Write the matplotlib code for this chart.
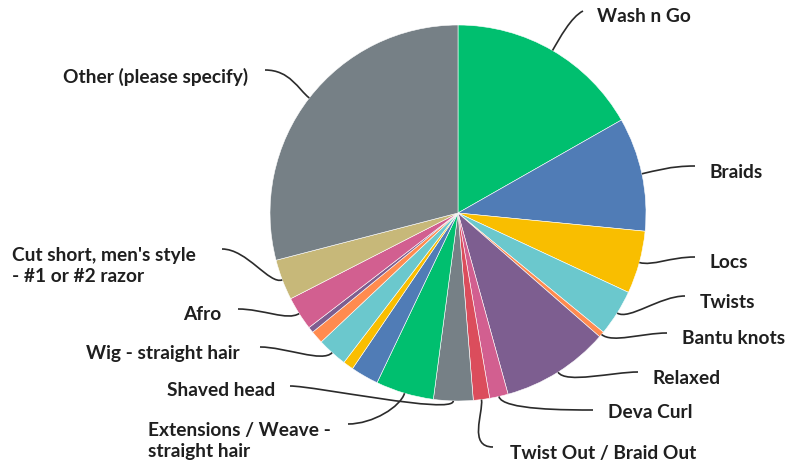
import numpy as np
import matplotlib
matplotlib.use("Agg")
import matplotlib.pyplot as plt
from matplotlib.path import Path
from matplotlib.patches import PathPatch

# ---- data (percent of responses, clockwise from 12 o'clock) ----
categories = ["Wash n Go", "Braids", "Locs", "Twists", "Bantu knots", "Relaxed",
              "Deva Curl", "Twist Out / Braid Out", "Shaved head",
              "Extensions / Weave -\nstraight hair", "", "", "Wig - straight hair",
              "", "", "Afro", "Cut short, men's style\n- #1 or #2 razor",
              "Other (please specify)"]
values = [16.8, 9.8, 5.4, 4.0, 0.5, 9.3, 1.6, 1.4, 3.4, 5.0, 2.4, 0.9, 2.6,
          1.1, 0.5, 2.9, 3.5, 29.1]
colors = ["#00BF6F", "#507CB6", "#F9BE00", "#6BC8CD", "#FF8B4F", "#7D5E90",
          "#D25F90", "#DB4D5C", "#768086", "#00BF6F", "#507CB6", "#F9BE00",
          "#6BC8CD", "#FF8B4F", "#7D5E90", "#D25F90", "#C7B879", "#768086"]

# label layout: (line end x, line end y in image px, text x, ha)
label_layout = {
    0: (583, 11, 597, "left"),
    1: (695, 166, 710, "left"),
    2: (695, 257, 710, "left"),
    3: (685, 296, 700, "left"),
    4: (667, 333, 682, "left"),
    5: (638, 372, 653, "left"),
    6: (593, 410, 608, "left"),
    7: (493, 447, 510, "left"),
    8: (290, 386, 275, "right"),
    9: (348, 424, 148, "left"),
    12: (260, 347, 240, "right"),
    15: (238, 309, 221, "right"),
    16: (222, 249, 12, "left"),
    17: (265, 70, 248, "right"),
}
text_y = {0: 17, 1: 172, 2: 263, 3: 302, 4: 338, 5: 378, 6: 412, 7: 454,
          8: 391, 9: 441, 12: 353, 15: 315, 16: 266, 17: 77}

W, H = 789, 466
fig = plt.figure(figsize=(W / 100, H / 100), dpi=100)
ax = fig.add_axes([0, 0, 1, 1])

cx, cy, R = 458, H - 213, 188
wedges, _ = ax.pie(values, colors=colors, startangle=90, counterclock=False,
                   center=(cx, cy), radius=R, frame=True,
                   wedgeprops=dict(edgecolor="white", linewidth=0.4))
ax.set_xlim(0, W)
ax.set_ylim(0, H)
ax.set_aspect("equal")
ax.axis("off")

font = dict(family=["Lato", "DejaVu Sans"], fontsize=13.8, fontweight="bold",
            color="#1f1f1f")

for i, w in enumerate(wedges):
    if i not in label_layout:
        continue
    ang = np.deg2rad((w.theta1 + w.theta2) / 2)
    ux, uy = np.cos(ang), np.sin(ang)
    p0 = (cx + R * ux, cy + R * uy)
    p1 = (cx + (R + 14) * ux, cy + (R + 14) * uy)
    ex, ey_img, tx, ha = label_layout[i]
    ey = H - ey_img
    dirx = 1 if ha == "left" and tx > ex else -1
    if i == 9:
        dirx = -1
    p2 = (ex - dirx * 25, ey)
    if i == 0:
        p2 = (ex - 12, ey - 6)
    verts = [p0, p1, p2, (ex, ey)]
    codes = [Path.MOVETO, Path.CURVE4, Path.CURVE4, Path.CURVE4]
    ax.add_patch(PathPatch(Path(verts, codes), fill=False, lw=1.2,
                           edgecolor="#2b2b2b"))
    ax.text(tx, H - text_y[i], categories[i], ha=ha, va="center",
            linespacing=1.25, **font)

fig.savefig("out.png", dpi=100)
